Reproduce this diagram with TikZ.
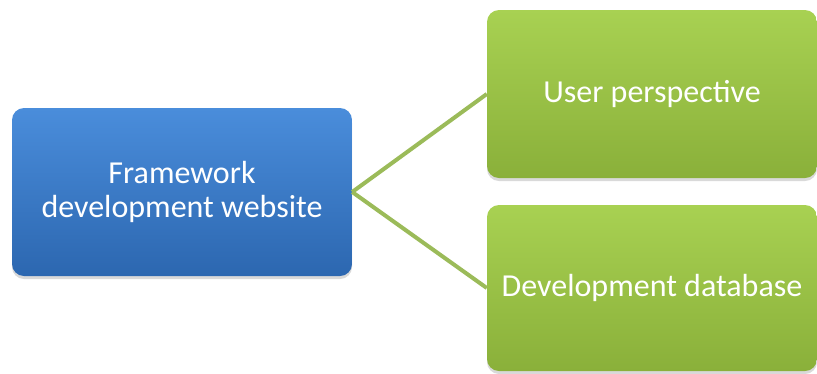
\documentclass[tikz,border=0pt]{standalone}
\usepackage{fontspec}
\setmainfont{Carlito}
\usetikzlibrary{shadows}
\definecolor{bluetop}{HTML}{4A8DDB}
\definecolor{bluebot}{HTML}{2C67B0}
\definecolor{greentop}{HTML}{A8D152}
\definecolor{greenbot}{HTML}{8AB03A}
\definecolor{linkgreen}{HTML}{9BBB59}
\tikzset{
  box/.style={rectangle, rounded corners=12pt, draw=none, text=white,
    font=\fontsize{32}{34}\selectfont, align=center, inner sep=0pt,
    drop shadow={opacity=0.3, shadow xshift=0pt, shadow yshift=-3pt}},
  bluebox/.style={box, top color=bluetop, bottom color=bluebot},
  greenbox/.style={box, top color=greentop, bottom color=greenbot},
  link/.style={draw=linkgreen, line width=4pt}
}
\begin{document}
\begin{tikzpicture}[x=1pt,y=-1pt]
\useasboundingbox (0,0) rectangle (817,373);
\node[bluebox, minimum width=340pt, minimum height=168pt] (fw) at (182,192) {Framework\\development website};
\node[greenbox, minimum width=330pt, minimum height=168pt] (up) at (652,94) {User perspective};
\node[greenbox, minimum width=330pt, minimum height=166pt] (dd) at (652,288) {Development database};
\draw[link] (fw.east) -- (up.west);
\draw[link] (fw.east) -- (dd.west);
\end{tikzpicture}
\end{document}
